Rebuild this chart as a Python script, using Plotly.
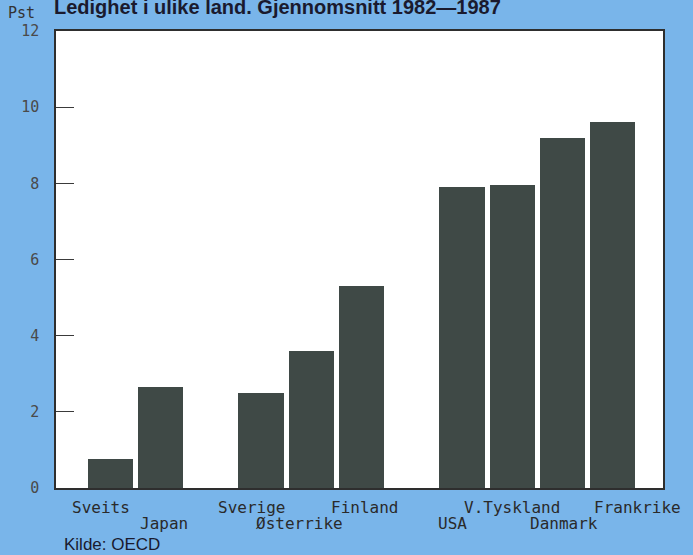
import plotly.graph_objects as go

# Data
countries = ["Sveits", "Japan", "Sverige", "Østerrike", "Finland",
             "USA", "V.Tyskland", "Danmark", "Frankrike"]
slots = [1, 2, 4, 5, 6, 8, 9, 10, 11]          # group layout with gaps
unemployment = [0.75, 2.65, 2.5, 3.6, 5.3, 7.9, 7.95, 9.2, 9.6]
y_ticks = [0, 2, 4, 6, 8, 10, 12]

# styling / label layout
label_row = [0, 1, 0, 1, 0, 1, 0, 1, 0]          # staggered rows
label_xshift = [-9, 3, -10, -12, 3, -10, 0, 1, 25]

BG = "#79b5ea"
BAR = "#3f4946"
MONO = "DejaVu Sans Mono"

fig = go.Figure()
fig.add_trace(go.Bar(
    x=slots, y=unemployment, width=0.9,
    marker=dict(color=BAR, line=dict(width=0)),
    hoverinfo="skip",
))

annotations = []
for name, s, row, dx in zip(countries, slots, label_row, label_xshift):
    annotations.append(dict(
        x=s, xref="x", y=0, yref="paper",
        text=name, showarrow=False,
        xanchor="center", yanchor="middle",
        xshift=dx, yshift=-19 if row == 0 else -35,
        font=dict(family=MONO, size=16, color="#2a2a2a"),
    ))

annotations += [
    dict(x=-0.082, xref="paper", y=1.039, yref="paper", text="Pst",
         showarrow=False, xanchor="left", yanchor="middle",
         font=dict(family=MONO, size=15, color="#333333")),
    dict(x=-0.0066, xref="paper", y=1.024, yref="paper",
         text="<b>Ledighet i ulike land. Gjennomsnitt 1982—1987</b>",
         showarrow=False, xanchor="left", yanchor="bottom",
         font=dict(family="Liberation Sans", size=20, color="#1a1a2e")),
    dict(x=0.0099, xref="paper", y=-0.1245, yref="paper", text="Kilde: OECD",
         showarrow=False, xanchor="left", yanchor="middle",
         font=dict(family="Liberation Sans", size=17, color="#1a1a2e")),
]

fig.update_layout(
    width=693, height=555,
    margin=dict(l=56, r=30, t=31, b=67),
    paper_bgcolor=BG, plot_bgcolor="white",
    showlegend=False,
    annotations=annotations,
    bargap=0,
)
fig.update_xaxes(
    range=[-0.08, 12.0], showticklabels=False, ticks="",
    showgrid=False, zeroline=False,
    showline=True, mirror=True, linecolor="#2e2e2e", linewidth=1.5,
)
fig.update_yaxes(
    range=[0, 12], tickvals=y_ticks, ticks="inside", ticklen=18,
    tickcolor="#3a3a3a", tickwidth=1.2,
    tickfont=dict(family=MONO, size=15, color="#4a4a4a"),
    ticklabelstandoff=12,
    showgrid=False, zeroline=False,
    showline=True, mirror=True, linecolor="#2e2e2e", linewidth=1.5,
)

fig.write_html(
    "out.html",
    config={"displayModeBar": False},
    post_script="document.body.style.margin='0';document.body.style.padding='0';"
                "document.body.style.background='" + BG + "';",
)
